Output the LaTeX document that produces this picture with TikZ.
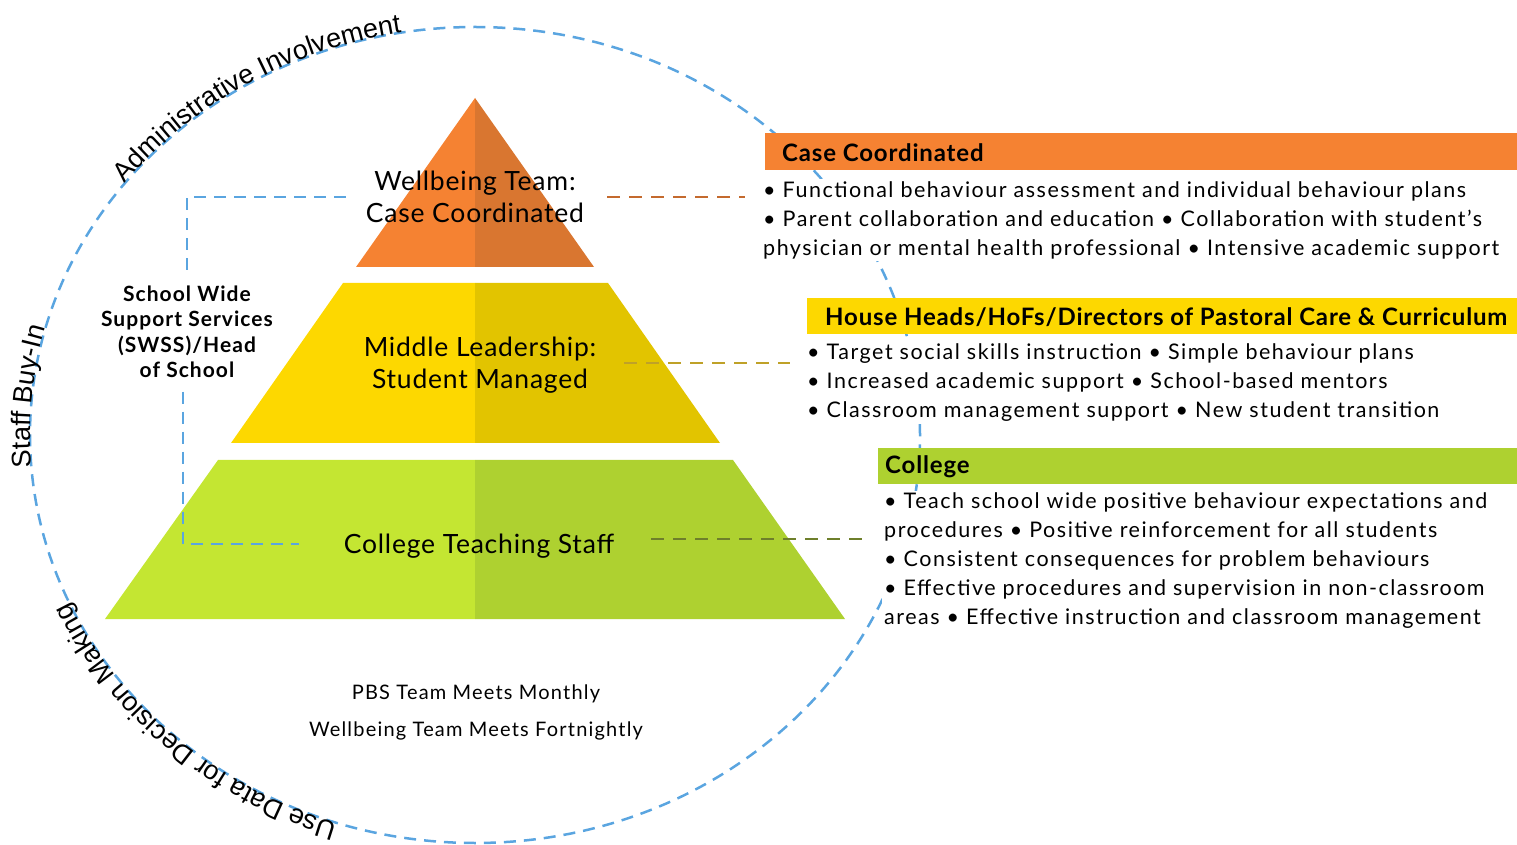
\documentclass[tikz,border=0pt]{standalone}
\usepackage{fontspec}
\setmainfont{Lato}
\newfontfamily\arialf{Liberation Sans}
\newfontfamily\bodyf[LetterSpace=7]{Lato}
\newfontfamily\lowf[LetterSpace=6]{Lato}
\newfontfamily\hdrf[LetterSpace=3.5]{Lato}
\newfontfamily\pyrf[LetterSpace=3]{Lato}
\newfontfamily\swf[LetterSpace=5]{Lato}
\usetikzlibrary{decorations.text}
\definecolor{orL}{HTML}{F58232}
\definecolor{orR}{HTML}{D97630}
\definecolor{yeL}{HTML}{FDD800}
\definecolor{yeR}{HTML}{E2C400}
\definecolor{grL}{HTML}{C4E632}
\definecolor{grR}{HTML}{AED130}
\definecolor{dashblue}{HTML}{5AA5E0}
\definecolor{orC}{HTML}{C46A2E}
\definecolor{yeC}{HTML}{BFA128}
\definecolor{grC}{HTML}{6E7F2B}
\tikzset{
  bluedash/.style={draw=dashblue, line width=2.5pt, dash pattern=on 12pt off 8pt},
  tierdash/.style={line width=2.5pt, dash pattern=on 13pt off 9pt},
  hdr/.style={font=\hdrf\fontsize{24}{24}\selectfont\bfseries, anchor=west, inner sep=0pt},
  bul/.style={font=\bodyf\fontsize{21.5}{29}\selectfont, align=left, fill=white, anchor=west, inner sep=2pt},
  pyr/.style={font=\pyrf\fontsize{26.5}{32}\selectfont, align=center, inner sep=3pt},
  low/.style={font=\lowf\fontsize{20}{37}\selectfont, align=center},
  arctext/.style={decorate, decoration={text along path, text align=left,
      text format delimiters={|}{|}}},
}
\begin{document}
\begin{tikzpicture}[x=1pt,y=1pt]
\useasboundingbox (0,0) rectangle (1517,844);
% surrounding ellipse
\draw[bluedash] (475,409) ellipse [x radius=445, y radius=408];
% bullet blocks (white, hide the ellipse)
\node[bul] (cc) at (761,624) {• Functional behaviour assessment and individual behaviour plans\\
• Parent collaboration and education • Collaboration with student’s\\
physician or mental health professional • Intensive academic support};
\node[bul] (yb) at (805,461) {• Target social skills instruction • Simple behaviour plans\\
• Increased academic support • School-based mentors\\
• Classroom management support • New student transition};
\node[bul] (gb) at (882,283) {• Teach school wide positive behaviour expectations and\\
procedures • Positive reinforcement for all students\\
• Consistent consequences for problem behaviours\\
• Effective procedures and supervision in non-classroom\\
areas • Effective instruction and classroom management};
% headers
\fill[orL] (765,674) rectangle (1517,711);
\node[hdr] (hcc) at (782,691) {Case Coordinated};
\fill[yeL] (807,510) rectangle (1517,546);
\node[hdr] (hyb) at (825,527) {House Heads/HoFs/Directors of Pastoral Care \& Curriculum};
\fill[grR] (878,360) rectangle (1517,396);
\node[hdr] (hgb) at (885,377) {College};
% pyramid
\fill[orL] (356,577) -- (475,746) -- (475,577) -- cycle;
\fill[orR] (475,577) -- (475,746) -- (594,577) -- cycle;
\fill[yeL] (231,401) -- (343,561) -- (475,561) -- (475,401) -- cycle;
\fill[yeR] (475,401) -- (475,561) -- (608,561) -- (720,401) -- cycle;
\fill[grL] (105,225) -- (218,384) -- (475,384) -- (475,225) -- cycle;
\fill[grR] (475,225) -- (475,384) -- (733,384) -- (845,225) -- cycle;
\node[pyr] (wb) at (475,647) {Wellbeing Team:\\Case Coordinated};
\node[pyr] (ml) at (480,479) {Middle Leadership:\\Student Managed};
\node[pyr] (ct) at (479,298) {College Teaching Staff};
% lower notes
\node[low] (mt) at (476,131.5) {PBS Team Meets Monthly\\Wellbeing Team Meets Fortnightly};
% SWSS
\node[font=\swf\fontsize{21}{25.5}\selectfont\bfseries, align=center] (sw) at (187,512)
  {School Wide\\Support Services\\(SWSS)/Head\\of School};
% connectors
\draw[bluedash, shorten <=17pt, shorten >=6pt] (wb.west) -| (sw.north);
\draw[bluedash, shorten <=10pt, shorten >=42pt] ([xshift=-4pt]sw.south) |- ([yshift=2pt]ct.west);
\draw[orC, tierdash, shorten <=20pt, shorten >=16pt] (wb.east) -- (wb.east -| cc.west);
\draw[yeC, tierdash, shorten <=25pt, shorten >=15pt] ([yshift=2pt]ml.east) -- ([yshift=2pt]ml.east -| yb.west);
\draw[grC, tierdash, shorten <=34pt, shorten >=14pt] ([yshift=7pt]ct.east) -- ([yshift=7pt]ct.east -| gb.west);
% curved labels
\path[arctext, decoration={text={|\arialf\fontsize{27}{27}\selectfont|Administrative Involvement}}]
  (475,409) ++({445*cos(142)},{408*sin(142)}) arc[start angle=142, end angle=90, x radius=445, y radius=408];
\path[arctext, decoration={text={|\arialf\fontsize{27}{27}\selectfont|Staff Buy-In}}]
  (475,409) ++({445*cos(184.5)},{408*sin(184.5)}) arc[start angle=184.5, end angle=155, x radius=445, y radius=408];
\path[arctext, decoration={text={|\arialf\fontsize{27}{27}\selectfont|Use Data for Decision Making}}]
  (475,409) ++({445*cos(252)},{408*sin(252)}) arc[start angle=252, end angle=190, x radius=445, y radius=408];
\end{tikzpicture}
\end{document}
